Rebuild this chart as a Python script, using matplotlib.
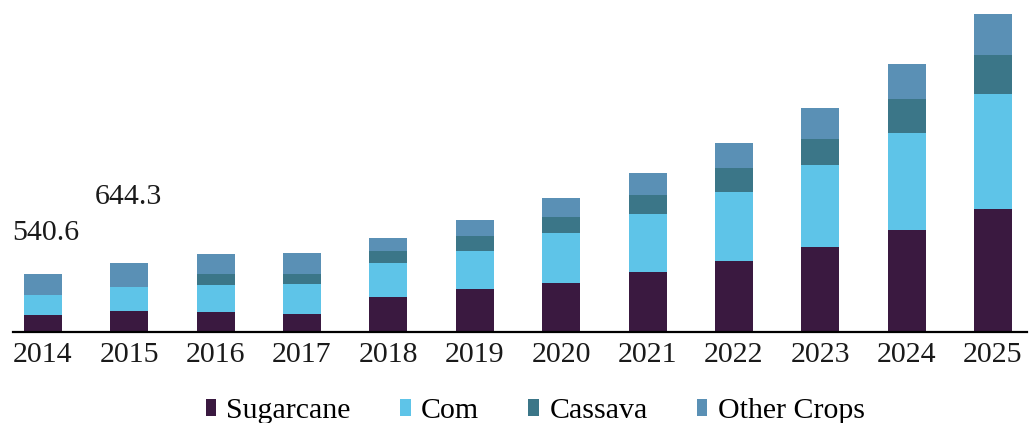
import matplotlib
matplotlib.use("Agg")
import matplotlib.pyplot as plt
import numpy as np

years = ["2014", "2015", "2016", "2017", "2018", "2019",
         "2020", "2021", "2022", "2023", "2024", "2025"]
sugarcane = [156.4, 195.2, 187.4, 172.4, 328.0, 400.1,
             462.9, 562.2, 665.3, 796.5, 952.9, 1149.7]
corn = [194.0, 224.6, 256.7, 274.5, 322.3, 362.6,
        468.5, 543.5, 650.3, 768.3, 915.5, 1077.6]
cassava = [0.0, 0.0, 99.3, 100.3, 105.9, 136.8,
           146.2, 175.2, 224.9, 247.4, 318.6, 372.0]
other_crops = [190.2, 224.5, 184.6, 193.0, 124.6, 149.9,
               175.2, 206.1, 230.5, 290.5, 328.0, 384.2]
series_names = ["Sugarcane", "Com", "Cassava", "Other Crops"]
series_colors = ["#3a1940", "#5ec4e8", "#3b7688", "#5a90b5"]
labelled_years = ["2014", "2015"]

plt.rcParams["font.family"] = ["Liberation Serif", "DejaVu Serif"]

fig = plt.figure(figsize=(10.35, 4.23), dpi=100)
ax = fig.add_axes([13 / 1035, 0.2151, 1014 / 1035, 0.7849])

x = np.arange(len(years))
bottom = np.zeros(len(years))
for name, vals, col in zip(series_names,
                           [sugarcane, corn, cassava, other_crops],
                           series_colors):
    vals = np.asarray(vals)
    ax.bar(x, vals, width=0.44, bottom=bottom, color=col, label=name,
           linewidth=0)
    bottom += vals

totals = bottom
label_offsets = {"2014": (2, 29.5), "2015": (-1, 48)}
for yr in labelled_years:
    i = years.index(yr)
    ax.annotate(f"{totals[i]:.1f}", xy=(i, totals[i]),
                xytext=label_offsets[yr], textcoords="offset points",
                ha="center", va="center", fontsize=21.5, color="#1a1a1a")

ax.set_xlim(-0.347, 11.394)
ax.set_ylim(0, 3111)
ax.set_xticks(x)
ax.set_xticklabels(years, fontsize=21.5, color="#1a1a1a")
ax.tick_params(axis="x", length=0, pad=7.5)
ax.set_yticks([])
for side in ["left", "right", "top"]:
    ax.spines[side].set_visible(False)
ax.spines["bottom"].set_linewidth(1.6)
ax.spines["bottom"].set_color("black")
ax.patch.set_alpha(0)

fig.legend(loc="center", bbox_to_anchor=(0.517, 0.028), ncol=4,
           frameon=False, fontsize=21.5, handlelength=0.35,
           handleheight=0.45, handletextpad=0.35, columnspacing=1.65,
           borderaxespad=0, borderpad=0)

fig.savefig("out.png", dpi=100)
